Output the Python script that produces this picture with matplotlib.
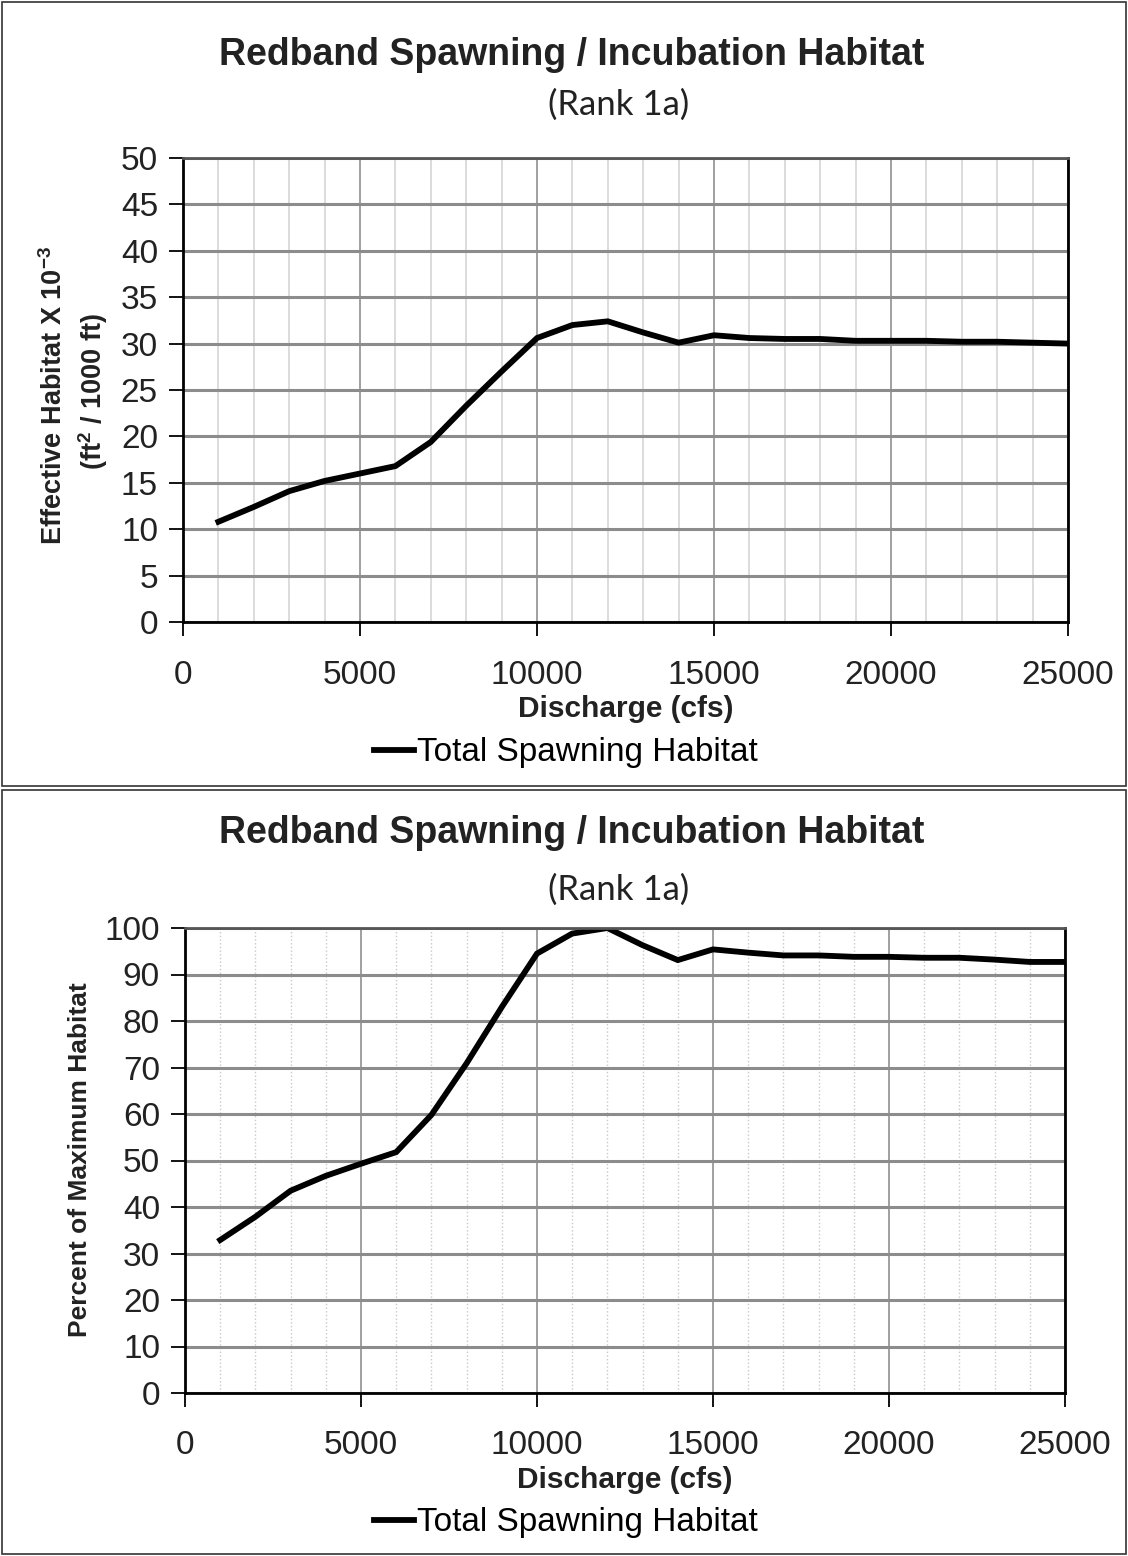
import matplotlib
matplotlib.use('Agg')
import matplotlib.pyplot as plt
from matplotlib.ticker import MultipleLocator
from matplotlib.patches import Rectangle

plt.rcParams['font.family'] = ['Liberation Sans', 'DejaVu Sans']
plt.rcParams['mathtext.fontset'] = 'custom'
plt.rcParams['mathtext.rm'] = 'Liberation Sans'
plt.rcParams['mathtext.bf'] = 'Liberation Sans:bold'

# data
discharge = [1000, 2000, 3000, 4000, 5000, 6000, 7000, 8000, 9000, 10000,
             11000, 12000, 13000, 14000, 15000, 16000, 17000, 18000, 19000,
             20000, 21000, 22000, 23000, 24000, 25000]
habitat = [10.8, 12.4, 14.1, 15.2, 16.0, 16.8, 19.4, 23.3, 27.0, 30.6,
           32.0, 32.4, 31.2, 30.1, 30.9, 30.6, 30.5, 30.5, 30.3,
           30.3, 30.3, 30.2, 30.2, 30.1, 30.0]
percent_max = [32.9, 37.9, 43.5, 46.7, 49.3, 51.8, 59.8, 70.9, 83.0, 94.5,
               98.8, 100.0, 96.3, 93.1, 95.4, 94.7, 94.1, 94.1, 93.8,
               93.8, 93.6, 93.6, 93.2, 92.7, 92.7]

title = 'Redband Spawning / Incubation Habitat'
subtitle = '(Rank 1a)'
series_name = 'Total Spawning Habitat'

W, H = 1128, 1556
fig = plt.figure(figsize=(W / 100, H / 100), dpi=100)


def fx(x):
    return x / W


def fy(y):
    return 1 - y / H


def axes_px(left, top, right, bottom):
    return fig.add_axes([fx(left), fy(bottom), (right - left) / W, (bottom - top) / H])


# panel borders
for top, bot in [(2, 786), (790, 1554)]:
    fig.patches.append(Rectangle((fx(2), fy(bot)), fx(1124), (bot - top) / H,
                                 transform=fig.transFigure, fill=False,
                                 edgecolor='#333333', linewidth=1.2))

title_font = dict(family=['Liberation Sans Narrow', 'Liberation Sans'],
                  fontweight='bold', fontsize=27, color='#222222')
sub_font = dict(family=['Lato', 'DejaVu Sans'], fontsize=25, color='#222222')


def style_axes(ax, ymax, ystep, minor_style):
    ax.set_xlim(0, 25000)
    ax.set_ylim(0, ymax)
    ax.xaxis.set_major_locator(MultipleLocator(5000))
    ax.xaxis.set_minor_locator(MultipleLocator(1000))
    ax.yaxis.set_major_locator(MultipleLocator(ystep))
    ax.grid(axis='y', which='major', color='#8c8c8c', linewidth=2.2)
    ax.grid(axis='x', which='major', color='#999999', linewidth=1.3)
    ax.grid(axis='x', which='minor', **minor_style)
    ax.set_axisbelow(True)
    ax.tick_params(axis='both', which='major', direction='out', length=10,
                   width=1.3, labelsize=24, labelcolor='#222222', pad=8)
    ax.tick_params(axis='x', which='major', pad=17)
    ax.tick_params(axis='x', which='minor', length=0)
    for side in ['left', 'bottom', 'right']:
        ax.spines[side].set_linewidth(2)
        ax.spines[side].set_color('black')
    ax.spines['top'].set_linewidth(2)
    ax.spines['top'].set_color('#555555')
    ax.set_xlabel('Discharge (cfs)', fontsize=21.5, fontweight='bold',
                  color='#222222', labelpad=3)


# top chart
ax1 = axes_px(183, 158, 1068, 622)
line1, = ax1.plot(discharge, habitat, color='black', linewidth=4.2,
                  solid_joinstyle='miter', label=series_name)
style_axes(ax1, 50, 5, dict(color='#d9d9d9', linewidth=1.3))
fig.text(fx(572), fy(55), title, ha='center', va='center', **title_font)
fig.text(fx(619), fy(105), subtitle, ha='center', va='center', **sub_font)
fig.text(fx(54), fy(395), r'Effective Habitat X 10$^{\mathbf{-3}}$', rotation=90,
         ha='center', va='center', fontsize=19.5, fontweight='bold', color='#222222')
fig.text(fx(93), fy(392), r'(ft$^{\mathbf{2}}$ / 1000 ft)', rotation=90,
         ha='center', va='center', fontsize=19.5, fontweight='bold', color='#222222')
ax1.legend(handles=[line1], loc='center', bbox_to_anchor=(fx(566), fy(753)),
           bbox_transform=fig.transFigure, frameon=False, fontsize=24,
           handlelength=1.2, handletextpad=0.1)

# bottom chart
ax2 = axes_px(185, 928, 1065, 1393)
line2, = ax2.plot(discharge, percent_max, color='black', linewidth=4.2,
                  solid_joinstyle='miter', label=series_name)
style_axes(ax2, 100, 10, dict(color='#c8c8c8', linewidth=1.0, linestyle=':'))
fig.text(fx(572), fy(833), title, ha='center', va='center', **title_font)
fig.text(fx(619), fy(890), subtitle, ha='center', va='center', **sub_font)
fig.text(fx(80), fy(1160), 'Percent of Maximum Habitat', rotation=90,
         ha='center', va='center', fontsize=19, fontweight='bold', color='#222222')
ax2.legend(handles=[line2], loc='center', bbox_to_anchor=(fx(566), fy(1523)),
           bbox_transform=fig.transFigure, frameon=False, fontsize=24,
           handlelength=1.2, handletextpad=0.1)

fig.savefig('out.png', dpi=100)
